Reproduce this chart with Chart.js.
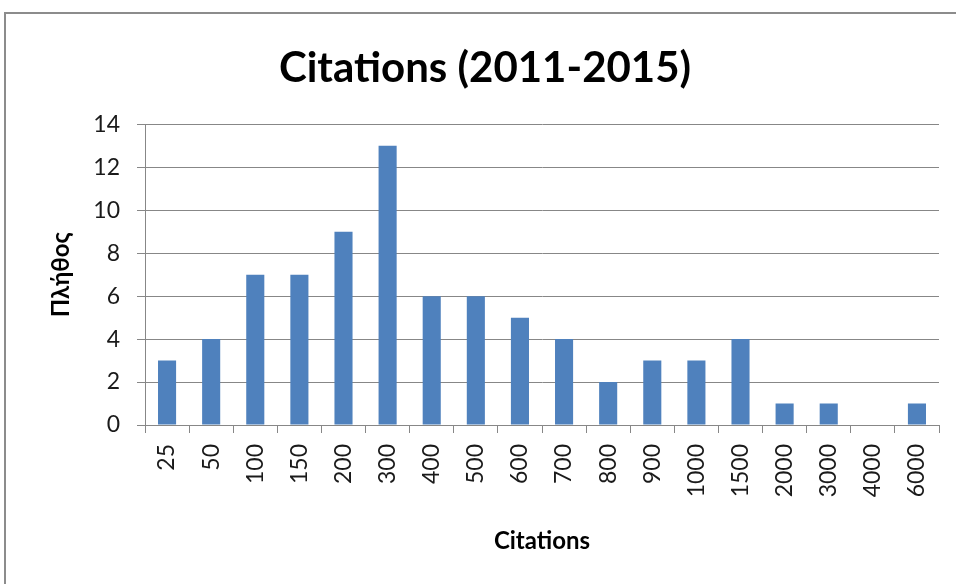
<!DOCTYPE html>
<html>
<head>
<meta charset="utf-8">
<script src="https://cdn.jsdelivr.net/npm/chart.js@4.4.1/dist/chart.umd.min.js"></script>
<style>
  html, body { margin: 0; padding: 0; background: #fff; overflow: hidden; }
  #wrap { position: relative; width: 956px; height: 584px; }
  #frame { position: absolute; left: 4px; top: 12px; width: 1000px; height: 1000px; border: 2px solid #8c8c8c; box-sizing: border-box; }
  #grafico { position: absolute; left: 0; top: 0; }
</style>
</head>
<body>
<div id="wrap">
  <div id="frame"></div>
  <canvas id="grafico" width="956" height="584"></canvas>
</div>
<script>
// Dados do gráfico
const categorias = ['25', '50', '100', '150', '200', '300', '400', '500', '600', '700', '800', '900', '1000', '1500', '2000', '3000', '4000', '6000'];
const quantidades = [3, 4, 7, 7, 9, 13, 6, 6, 5, 4, 2, 3, 3, 4, 1, 1, 0, 1];

const tituloGrafico = 'Citations (2011-2015)';
const tituloEixoX = 'Citations';
const tituloEixoY = 'Πλήθος';

const fonte = 'Lato, "Open Sans", sans-serif';
const corGrade = '#878787';

const ctx = document.getElementById('grafico').getContext('2d');

new Chart(ctx, {
    type: 'bar',
    data: {
        labels: categorias,
        datasets: [{
            data: quantidades,
            backgroundColor: '#4f81bd',
            borderWidth: 0,
            categoryPercentage: 1,
            barPercentage: 0.41
        }]
    },
    options: {
        responsive: false,
        animation: false,
        layout: { padding: { left: 30, right: 16, top: 25, bottom: 20 } },
        plugins: {
            legend: { display: false },
            tooltip: { enabled: false },
            title: {
                display: true,
                text: tituloGrafico,
                color: '#000',
                font: { family: fonte, size: 42, weight: 'bold' },
                padding: { top: 18, bottom: 31 }
            }
        },
        scales: {
            x: {
                grid: { drawOnChartArea: false, drawTicks: true, tickLength: 8, color: corGrade },
                border: { color: corGrade, width: 1 },
                ticks: {
                    color: '#1a1a1a',
                    font: { family: fonte, size: 23 },
                    minRotation: 90,
                    maxRotation: 90,
                    padding: 11,
                    autoSkip: false
                },
                title: {
                    display: true,
                    text: tituloEixoX,
                    color: '#000',
                    font: { family: fonte, size: 24, weight: 'bold' },
                    padding: { top: 0, bottom: 8 }
                },
                afterFit: (escala) => { escala.height = 584 - 20 - 425; }
            },
            y: {
                min: 0,
                max: 14,
                ticks: {
                    stepSize: 2,
                    color: '#1a1a1a',
                    font: { family: fonte, size: 23 },
                    padding: 17
                },
                grid: { color: corGrade, tickLength: 8 },
                border: { color: corGrade, width: 1 },
                title: {
                    display: true,
                    text: tituloEixoY,
                    color: '#000',
                    font: { family: fonte, size: 24, weight: 'bold' },
                    padding: { top: 17, bottom: 0 }
                },
                afterFit: (escala) => { escala.width = 145 - 30; }
            }
        }
    }
});
</script>
</body>
</html>
